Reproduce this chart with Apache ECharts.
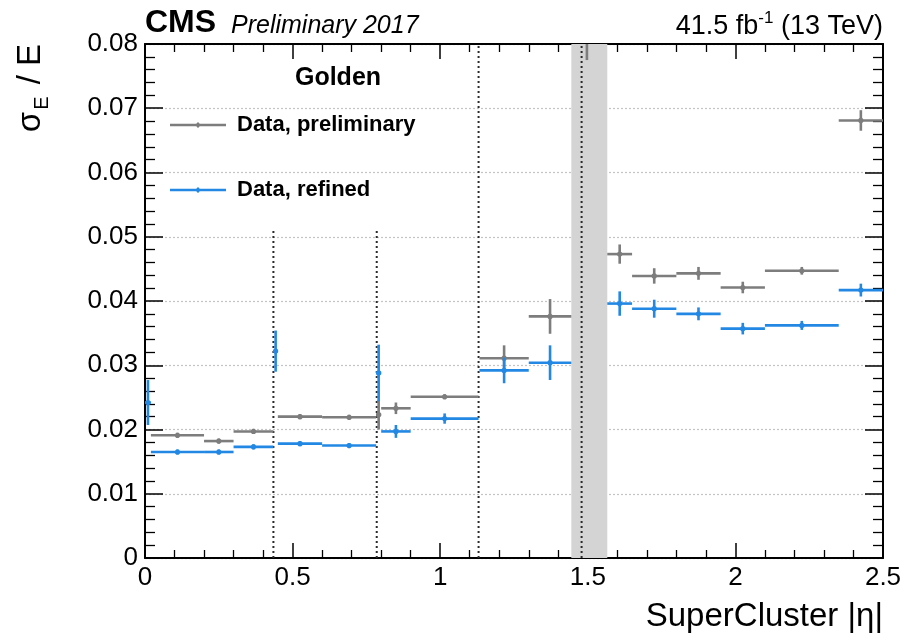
<!DOCTYPE html>
<html>
<head>
<meta charset="utf-8">
<script src="https://cdn.jsdelivr.net/npm/echarts@6/dist/echarts.min.js"></script>
<style>
html,body{margin:0;padding:0;background:#fff;}
#chart{width:913px;height:642px;}
</style>
</head>
<body>
<div id="chart"></div>
<script>
// ---- data ----
const binLow  = [0.02, 0.2, 0.3, 0.45, 0.6, 0.8, 0.9, 1.133, 1.3, 1.566, 1.65, 1.8, 1.95, 2.1, 2.35];
const binHigh = [0.2, 0.3, 0.435, 0.6, 0.783, 0.9, 1.13, 1.3, 1.4442, 1.65, 1.8, 1.95, 2.1, 2.35, 2.5];

const prelimVal = [0.0191, 0.0182, 0.0197, 0.0220, 0.0219, 0.0233, 0.0251, 0.0311, 0.0376, 0.0473, 0.0439, 0.0443, 0.0421, 0.0447, 0.0681];
const prelimErr = [0.0004, 0.0004, 0.0004, 0.0004, 0.0004, 0.0009, 0.0004, 0.0020, 0.0027, 0.0015, 0.0012, 0.0010, 0.0009, 0.0006, 0.0016];

const refinedVal = [0.0165, 0.0165, 0.0173, 0.0178, 0.0175, 0.0197, 0.0217, 0.0292, 0.0304, 0.0396, 0.0388, 0.0380, 0.0357, 0.0362, 0.0417];
const refinedErr = [0.0004, 0.0004, 0.0004, 0.0004, 0.0004, 0.0010, 0.0008, 0.0020, 0.0027, 0.0019, 0.0014, 0.0010, 0.0009, 0.0007, 0.0010];

// narrow crack bins
const prelimCrackLow  = [0.783, 1.479];
const prelimCrackHigh = [0.8, 1.515];
const prelimCrackVal  = [0.0223, 0.088];
const prelimCrackErr  = [0.0023, 0.0105];

const refinedCrackLow  = [0, 0.435, 0.783];
const refinedCrackHigh = [0.02, 0.45, 0.8];
const refinedCrackVal  = [0.0242, 0.0322, 0.0288];
const refinedCrackErr  = [0.0035, 0.0032, 0.0044];

// module boundaries (x, upper y of dotted line) and EB/EE gap band
const boundaryX   = [0.435, 0.785, 1.13, 1.479];
const boundaryTop = [0.051, 0.051, 0.08, 0.08];
const gapBand = [1.4442, 1.566];

const xTickLabels = ['0', '0.5', '1', '1.5', '2', '2.5'];
const yTickLabels = ['0', '0.01', '0.02', '0.03', '0.04', '0.05', '0.06', '0.07', '0.08'];

const seriesNames = ['Data, preliminary', 'Data, refined'];
const seriesColors = ['#7d7d7d', '#2288e3'];

// ---- build ----
function build(lo, hi, v, e) {
  return lo.map((l, i) => [l, hi[i], v[i], e[i]]);
}
const prelimData = build(binLow, binHigh, prelimVal, prelimErr)
  .concat(build(prelimCrackLow, prelimCrackHigh, prelimCrackVal, prelimCrackErr));
const refinedData = build(binLow, binHigh, refinedVal, refinedErr)
  .concat(build(refinedCrackLow, refinedCrackHigh, refinedCrackVal, refinedCrackErr));

const FONT = '"Liberation Sans", Arial, Helvetica, sans-serif';

function errRender(params, api) {
  const lo = api.value(0), hi = api.value(1), y = api.value(2), e = api.value(3);
  const xc = (lo + hi) / 2;
  const color = api.visual('color');
  const a = api.coord([lo, y]), b = api.coord([hi, y]);
  const t = api.coord([xc, y + e]), bt = api.coord([xc, y - e]);
  const c = api.coord([xc, y]);
  return {
    type: 'group',
    children: [
      { type: 'line', shape: { x1: a[0], y1: a[1], x2: b[0], y2: b[1] }, style: { stroke: color, lineWidth: 2.6 } },
      { type: 'line', shape: { x1: t[0], y1: t[1], x2: bt[0], y2: bt[1] }, style: { stroke: color, lineWidth: 2.6 } },
      { type: 'circle', shape: { cx: c[0], cy: c[1], r: 2.6 }, style: { fill: color } }
    ]
  };
}

const legendIcon = 'path://M0,1.8H56V4.2H0Z M28,0L31,3L28,6L25,3Z';

function axisCommon(extra) {
  return Object.assign({
    type: 'value',
    axisLine: { show: true, onZero: false, lineStyle: { color: '#000', width: 2 } },
    axisTick: { show: true, inside: true, lineStyle: { color: '#000', width: 1.5 } },
    minorTick: { show: true, splitNumber: 5, lineStyle: { color: '#000', width: 1.3 } },
    splitLine: { show: false }
  }, extra);
}

const option = {
  animation: false,
  backgroundColor: '#fff',
  grid: { left: 145, right: 30, top: 44, bottom: 84 },
  xAxis: [
    axisCommon({
      position: 'bottom', min: 0, max: 2.5, interval: 0.5,
      axisTick: { show: true, inside: true, length: 15, lineStyle: { color: '#000', width: 1.5 } },
      minorTick: { show: true, splitNumber: 5, length: 8, lineStyle: { color: '#000', width: 1.3 } },
      axisLabel: { color: '#000', fontSize: 26, fontFamily: FONT, margin: 7,
        formatter: v => xTickLabels[Math.round(v / 0.5)] }
    }),
    axisCommon({
      position: 'top', min: 0, max: 2.5, interval: 0.5,
      axisTick: { show: true, inside: true, length: 15, lineStyle: { color: '#000', width: 1.5 } },
      minorTick: { show: true, splitNumber: 5, length: 8, lineStyle: { color: '#000', width: 1.3 } },
      axisLabel: { show: false }
    })
  ],
  yAxis: [
    axisCommon({
      position: 'left', min: 0, max: 0.08, interval: 0.01,
      axisTick: { show: true, inside: true, length: 18, lineStyle: { color: '#000', width: 1.5 } },
      minorTick: { show: true, splitNumber: 5, length: 10, lineStyle: { color: '#000', width: 1.3 } },
      splitLine: { show: true, lineStyle: { color: '#c4c4c4', width: 1.2, type: [2, 2] } },
      axisLabel: { color: '#000', fontSize: 26, fontFamily: FONT, margin: 7,
        formatter: v => yTickLabels[Math.round(v / 0.01)] }
    }),
    axisCommon({
      position: 'right', min: 0, max: 0.08, interval: 0.01,
      axisTick: { show: true, inside: true, length: 18, lineStyle: { color: '#000', width: 1.5 } },
      minorTick: { show: true, splitNumber: 5, length: 10, lineStyle: { color: '#000', width: 1.3 } },
      axisLabel: { show: false }
    })
  ],
  legend: {
    orient: 'vertical', left: 170, top: 113, itemGap: 41, padding: 0,
    itemWidth: 56, itemHeight: 6,
    selectedMode: false,
    textStyle: { fontSize: 22, fontWeight: 'bold', fontFamily: FONT, color: '#000', lineHeight: 24, padding: [0, 0, 0, 6] },
    data: [
      { name: seriesNames[0], icon: legendIcon },
      { name: seriesNames[1], icon: legendIcon }
    ]
  },
  graphic: [
    { type: 'text', x: 145, y: 23, style: { text: 'CMS', font: 'bold 32px ' + FONT, fill: '#000', align: 'left', verticalAlign: 'middle', textAlign: 'left', textVerticalAlign: 'middle' } },
    { type: 'text', x: 231, y: 26, style: { text: 'Preliminary 2017', font: 'italic 25px ' + FONT, fill: '#000', align: 'left', verticalAlign: 'middle', textAlign: 'left', textVerticalAlign: 'middle' } },
    { type: 'text', x: 883, y: 25, style: {
        text: '{a|41.5 fb}{s|-1}{a| (13 TeV)}', align: 'right', verticalAlign: 'middle', textAlign: 'right', textVerticalAlign: 'middle',
        rich: {
          a: { font: '27px ' + FONT, fill: '#000', lineHeight: 30, verticalAlign: 'bottom' },
          s: { font: '17px ' + FONT, fill: '#000', lineHeight: 30, verticalAlign: 'top' }
        } } },
    { type: 'text', x: 338, y: 78, style: { text: 'Golden', font: 'bold 25px ' + FONT, fill: '#000', align: 'center', verticalAlign: 'middle', textAlign: 'center', textVerticalAlign: 'middle' } },
    { type: 'text', x: 883, y: 617, style: { text: 'SuperCluster |η|', font: '33px ' + FONT, fill: '#000', align: 'right', verticalAlign: 'middle', textAlign: 'right', textVerticalAlign: 'middle' } },
    { type: 'text', x: 33, y: 44, rotation: Math.PI / 2, style: {
        text: '{a|σ}{s|E}{a| / E}', align: 'right', verticalAlign: 'middle', textAlign: 'right', textVerticalAlign: 'middle',
        rich: {
          a: { font: '33px ' + FONT, fill: '#000', lineHeight: 38, verticalAlign: 'top' },
          s: { font: '20px ' + FONT, fill: '#000', lineHeight: 38, verticalAlign: 'bottom', padding: [0, 3, 0, 2] }
        } } }
  ],
  series: [
    {
      type: 'custom', name: 'gapBand', z: 1, silent: true,
      data: [gapBand],
      renderItem: (params, api) => {
        const p1 = api.coord([api.value(0), 0.08]);
        const p2 = api.coord([api.value(1), 0]);
        return { type: 'rect', shape: { x: p1[0], y: p1[1], width: p2[0] - p1[0], height: p2[1] - p1[1] }, style: { fill: '#d4d4d4' } };
      }
    },
    {
      type: 'custom', name: 'boundaries', z: 2, silent: true,
      data: boundaryX.map((x, i) => [x, boundaryTop[i]]),
      renderItem: (params, api) => {
        const p1 = api.coord([api.value(0), 0]);
        const p2 = api.coord([api.value(0), api.value(1)]);
        return { type: 'line', shape: { x1: p1[0], y1: p1[1], x2: p2[0], y2: p2[1] }, style: { stroke: '#2a2a2a', lineWidth: 2, lineDash: [2, 3] } };
      }
    },
    {
      type: 'custom', name: seriesNames[0], z: 3, clip: true,
      itemStyle: { color: seriesColors[0] },
      encode: { x: [0, 1], y: 2 },
      data: prelimData, renderItem: errRender
    },
    {
      type: 'custom', name: seriesNames[1], z: 4, clip: true,
      itemStyle: { color: seriesColors[1] },
      encode: { x: [0, 1], y: 2 },
      data: refinedData, renderItem: errRender
    }
  ]
};

const chart = echarts.init(document.getElementById('chart'), null, { renderer: 'canvas' });
chart.setOption(option);
</script>
</body>
</html>
